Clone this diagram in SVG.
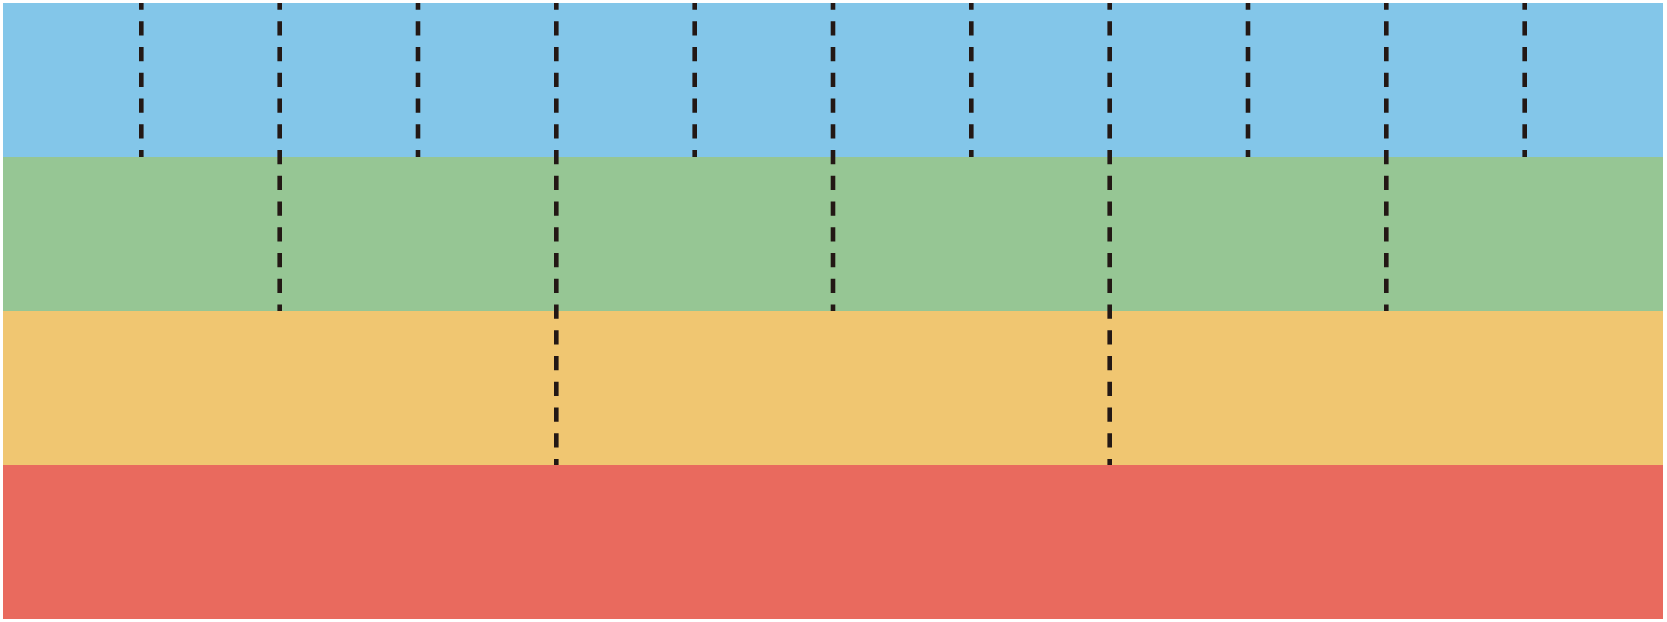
<svg xmlns="http://www.w3.org/2000/svg" width="1667" height="622" viewBox="0 0 1667 622">
<style>
.d{stroke:#231815;stroke-width:4.6;stroke-dasharray:14.3 11.45;stroke-dashoffset:7.45;fill:none}
</style>
<rect width="1667" height="622" fill="#ffffff"/>
<g id="bands">
<rect id="band-blue" x="3" y="3" width="1660" height="154" fill="#83C6E9"/>
<rect id="band-green" x="3" y="157" width="1660" height="154" fill="#96C694"/>
<rect id="band-yellow" x="3" y="311" width="1660" height="154" fill="#F0C671"/>
<rect id="band-red" x="3" y="465" width="1660" height="154" fill="#E96A5E"/>
</g>
<g id="connectors">
<line class="d" x1="141.3" y1="3" x2="141.3" y2="157"/>
<line class="d" x1="279.7" y1="3" x2="279.7" y2="311"/>
<line class="d" x1="418" y1="3" x2="418" y2="157"/>
<line class="d" x1="556.3" y1="3" x2="556.3" y2="465"/>
<line class="d" x1="694.7" y1="3" x2="694.7" y2="157"/>
<line class="d" x1="833" y1="3" x2="833" y2="311"/>
<line class="d" x1="971.3" y1="3" x2="971.3" y2="157"/>
<line class="d" x1="1109.7" y1="3" x2="1109.7" y2="465"/>
<line class="d" x1="1248" y1="3" x2="1248" y2="157"/>
<line class="d" x1="1386.3" y1="3" x2="1386.3" y2="311"/>
<line class="d" x1="1524.7" y1="3" x2="1524.7" y2="157"/>
</g>
</svg>
